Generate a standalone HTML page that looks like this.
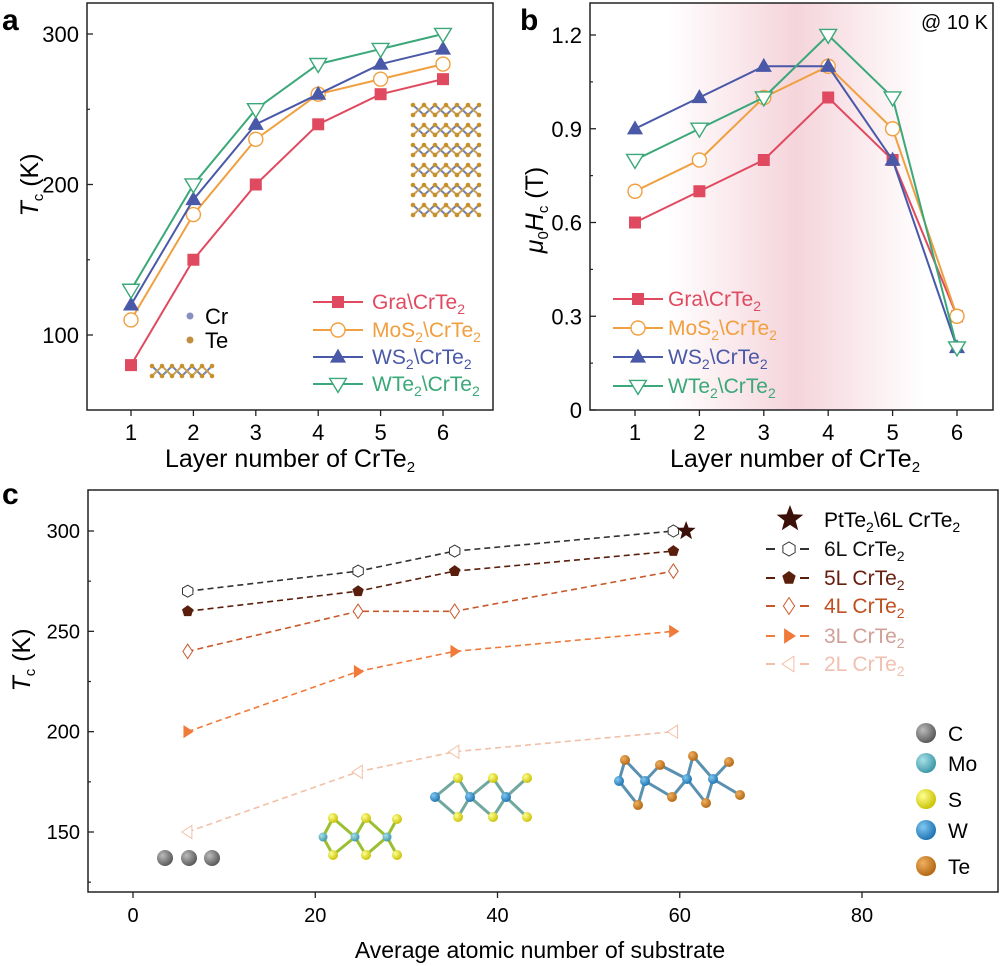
<!DOCTYPE html>
<html><head><meta charset="utf-8"><style>
html,body{margin:0;padding:0;background:#fff}
svg{display:block;font-family:"Liberation Sans",Arial,sans-serif}
</style></head><body>
<svg id="fig" width="1000" height="966" viewBox="0 0 1000 966" xmlns="http://www.w3.org/2000/svg">
<defs>
<linearGradient id="pinkG" x1="0" x2="1" y1="0" y2="0">
<stop offset="0" stop-color="#e8a0b0" stop-opacity="0"/>
<stop offset="0.5" stop-color="#e8a0b0" stop-opacity="0.45"/>
<stop offset="1" stop-color="#e8a0b0" stop-opacity="0"/>
</linearGradient>
<radialGradient id="gC" cx="0.35" cy="0.35" r="0.7"><stop offset="0" stop-color="#bbb"/><stop offset="1" stop-color="#555"/></radialGradient>
<radialGradient id="gMo" cx="0.35" cy="0.35" r="0.7"><stop offset="0" stop-color="#a8e0e8"/><stop offset="1" stop-color="#3a95a5"/></radialGradient>
<radialGradient id="gS" cx="0.35" cy="0.35" r="0.7"><stop offset="0" stop-color="#ffff90"/><stop offset="1" stop-color="#c8c000"/></radialGradient>
<radialGradient id="gW" cx="0.35" cy="0.35" r="0.7"><stop offset="0" stop-color="#80c8f0"/><stop offset="1" stop-color="#1a70b0"/></radialGradient>
<radialGradient id="gTe" cx="0.35" cy="0.35" r="0.7"><stop offset="0" stop-color="#f0b060"/><stop offset="1" stop-color="#b06510"/></radialGradient>
</defs>
</svg>
<script>
// ---------- data ----------
const layers = [1,2,3,4,5,6];
const tcGra  = [80,150,200,240,260,270];
const tcMoS2 = [110,180,230,260,270,280];
const tcWS2  = [120,190,240,260,280,290];
const tcWTe2 = [130,200,250,280,290,300];
const hcGra  = [0.6,0.7,0.8,1.0,0.8,0.3];
const hcMoS2 = [0.7,0.8,1.0,1.1,0.9,0.3];
const hcWS2  = [0.9,1.0,1.1,1.1,0.8,0.2];
const hcWTe2 = [0.8,0.9,1.0,1.2,1.0,0.2];
const tickA = [100,200,300];
const tickB = [0,0.3,0.6,0.9,1.2];
const tickBLabels = ["0","0.3","0.6","0.9","1.2"];
const zSub = [6,24.7,35.3,59.3];
const tc6L = [270,280,290,300];
const tc5L = [260,270,280,290];
const tc4L = [240,260,260,280];
const tc3L = [200,230,240,250];
const tc2L = [150,180,190,200];
const starZ = [60.7];
const starTc = [300];
const tickCx = [0,20,40,60,80];
const tickCy = [150,200,250,300];

const NS="http://www.w3.org/2000/svg";
const svg=document.getElementById('fig');
function el(tag,attrs,parent,name,inter){
  const e=document.createElementNS(NS,tag);
  for(const k in attrs) e.setAttribute(k,attrs[k]);
  
  
  (parent||svg).appendChild(e); return e;
}
function txt(x,y,html,attrs,name,parent){
  const t=el('text',Object.assign({x:x,y:y},attrs||{}),parent,name);
  t.innerHTML=html; return t;
}
function marker(g,type,x,y,s,color,fill){
  let e;
  if(type==='square') e=el('rect',{x:x-s,y:y-s,width:2*s,height:2*s,fill:color},g,'marker');
  else if(type==='circle') e=el('circle',{cx:x,cy:y,r:s,fill:'#fff',stroke:color,'stroke-width':1.4},g,'marker');
  else if(type==='tri') e=el('polygon',{points:`${x},${y-s*1.2} ${x-s*1.15},${y+s*0.8} ${x+s*1.15},${y+s*0.8}`,fill:color},g,'marker');
  else if(type==='itri') e=el('polygon',{points:`${x},${y+s*1.2} ${x-s*1.2},${y-s*0.8} ${x+s*1.2},${y-s*0.8}`,fill:'#fff',stroke:color,'stroke-width':1.4},g,'marker');
  else if(type==='hex'){let p=[];for(let i=0;i<6;i++){const a=Math.PI/6+i*Math.PI/3;p.push((x+s*Math.cos(a)).toFixed(1)+','+(y+s*Math.sin(a)).toFixed(1));}
    e=el('polygon',{points:p.join(' '),fill:'#fff',stroke:color,'stroke-width':1},g,'marker');}
  else if(type==='pent'){let p=[];for(let i=0;i<5;i++){const a=-Math.PI/2+i*2*Math.PI/5;p.push((x+s*Math.cos(a)).toFixed(1)+','+(y+s*Math.sin(a)).toFixed(1));}
    e=el('polygon',{points:p.join(' '),fill:color},g,'marker');}
  else if(type==='diam') e=el('polygon',{points:`${x},${y-s*1.2} ${x+s*0.8},${y} ${x},${y+s*1.2} ${x-s*0.8},${y}`,fill:'#fff',stroke:color,'stroke-width':1},g,'marker');
  else if(type==='rtri') e=el('polygon',{points:`${x+s},${y} ${x-s*0.7},${y-s*1.1} ${x-s*0.7},${y+s*1.1}`,fill:color},g,'marker');
  else if(type==='ltri') e=el('polygon',{points:`${x-s},${y} ${x+s*0.7},${y-s*1.1} ${x+s*0.7},${y+s*1.1}`,fill:'#fff',stroke:color,'stroke-width':1},g,'marker');
  else if(type==='star'){let p=[];for(let i=0;i<10;i++){const a=-Math.PI/2+i*Math.PI/5;const r=i%2?s*0.42:s;p.push((x+r*Math.cos(a)).toFixed(1)+','+(y+r*Math.sin(a)).toFixed(1));}
    e=el('polygon',{points:p.join(' '),fill:color},g,'marker');}
  return e;
}
function ball(g,x,y,r,grad){el('circle',{cx:x,cy:y,r:r,fill:'url(#'+grad+')'},g,'atom');}

// ---------- Panel a ----------
const A={l:87,r:493,t:3,b:410};
const ax=v=>131+(v-1)*(443-131)/5;
const ay=v=>335-(v-100)*(335-34)/200;
const gA=el('g',{},svg,'panel-a');
txt(2,30,'a',{'font-size':30,'font-weight':'bold'},'panel-a-label',gA);
// ticks
tickA.forEach(v=>{el('line',{x1:A.l,x2:A.l+6,y1:ay(v),y2:ay(v),stroke:'#222','stroke-width':1.3},gA,'y-tick');
  txt(A.l-8,ay(v)+8,v,{'font-size':22,'text-anchor':'end'},'y-tick-label',gA);});
[150,250].forEach(v=>el('line',{x1:A.l,x2:A.l+3,y1:ay(v),y2:ay(v),stroke:'#222','stroke-width':1.2},gA,'y-minor-tick'));
layers.forEach(v=>{el('line',{x1:ax(v),x2:ax(v),y1:A.b,y2:A.b+6,stroke:'#222','stroke-width':1.3},gA,'x-tick');
  txt(ax(v),A.b+30,v,{'font-size':22,'text-anchor':'middle'},'x-tick-label',gA);});
txt(290,467,'Layer number of CrTe<tspan font-size="15" dy="5">2</tspan>',{'font-size':25,'text-anchor':'middle'},'x-axis-title',gA);
txt(0,0,'<tspan font-style="italic">T</tspan><tspan font-size="15" dy="5">c</tspan><tspan dy="-5"> (K)</tspan>',{'font-size':25,'text-anchor':'middle',transform:'translate(38,185) rotate(-90)'},'y-axis-title',gA);
// lattice decorations
(function(){
  const g=el('g',{},gA,'crte2-bulk-structure');
  for(let k=0;k<6;k++){const y0=105+k*20;
    let pts=[];for(let i=0;i<=6;i++){pts.push((413+i*11)+','+(y0+(i%2?10:0)));}
    el('polyline',{points:pts.join(' '),fill:'none',stroke:'#7080b0','stroke-width':2},g,'bond');
    let pts2=[];for(let i=0;i<=6;i++){pts2.push((413+i*11)+','+(y0+(i%2?0:10)));}
    el('polyline',{points:pts2.join(' '),fill:'none',stroke:'#c8a050','stroke-width':2},g,'bond');
    for(let i=0;i<=6;i++){el('circle',{cx:413+i*11,cy:y0,r:2.3,fill:'#c8902a'},g,'te-atom');el('circle',{cx:413+i*11,cy:y0+10,r:2.3,fill:'#c8902a'},g,'te-atom');}
  }
  const g2=el('g',{},gA,'crte2-monolayer-structure');
  let p1=[],p2=[];for(let i=0;i<=6;i++){p1.push((152+i*10)+','+(366+(i%2?10:0)));p2.push((152+i*10)+','+(366+(i%2?0:10)));}
  el('polyline',{points:p1.join(' '),fill:'none',stroke:'#7080b0','stroke-width':2},g2,'bond');
  el('polyline',{points:p2.join(' '),fill:'none',stroke:'#c8a050','stroke-width':2},g2,'bond');
  for(let i=0;i<=6;i++){el('circle',{cx:152+i*10,cy:366,r:2.3,fill:'#c8902a'},g2,'te-atom');el('circle',{cx:152+i*10,cy:376,r:2.3,fill:'#c8902a'},g2,'te-atom');}
  el('circle',{cx:190,cy:316,r:3.5,fill:'#8890c0'},gA,'cr-legend-dot');
  txt(205,324,'Cr',{'font-size':22},'cr-legend-label',gA);
  el('circle',{cx:190,cy:340,r:3.5,fill:'#c09040'},gA,'te-legend-dot');
  txt(205,348,'Te',{'font-size':22},'te-legend-label',gA);
})();
const seriesA=[[tcGra,'#e04a60','square','gra'],[tcMoS2,'#f0a040','circle','mos2'],[tcWS2,'#4a58a8','tri','ws2'],[tcWTe2,'#3aa878','itri','wte2']];
seriesA.forEach(s=>{const g=el('g',{},gA,'series-a-'+s[3]);
  el('polyline',{points:layers.map((v,i)=>ax(v)+','+ay(s[0][i])).join(' '),fill:'none',stroke:s[1],'stroke-width':2},g,'line');
  layers.forEach((v,i)=>marker(g,s[2],ax(v),ay(s[0][i]),s[2]==='square'?6:7,s[1]));});
const legNames=['Gra\\CrTe<tspan font-size="14" dy="5">2</tspan>','MoS<tspan font-size="14" dy="5">2</tspan><tspan dy="-5">\\CrTe</tspan><tspan font-size="14" dy="5">2</tspan>','WS<tspan font-size="14" dy="5">2</tspan><tspan dy="-5">\\CrTe</tspan><tspan font-size="14" dy="5">2</tspan>','WTe<tspan font-size="14" dy="5">2</tspan><tspan dy="-5">\\CrTe</tspan><tspan font-size="14" dy="5">2</tspan>'];
function legend(g,x0,ys,tx){seriesA.forEach((s,i)=>{const lg=el('g',{},g,'legend-entry-'+s[3]);
  el('line',{x1:x0,x2:x0+50,y1:ys[i],y2:ys[i],stroke:s[1],'stroke-width':2},lg,'legend-line');
  marker(lg,s[2],x0+25,ys[i],s[2]==='square'?6:7,s[1]);
  txt(tx,ys[i]+7,legNames[i],{'font-size':21,fill:s[1]},'legend-label',lg);});}
legend(gA,313,[302,330,357,384],372);
el('rect',{x:A.l,y:A.t,width:A.r-A.l,height:A.b-A.t,fill:'none',stroke:'#222','stroke-width':1.5},gA,'plot-frame');

// ---------- Panel b ----------
const B={l:590,r:993,t:3,b:410};
const bx=v=>635+(v-1)*(957-635)/5;
const by=v=>410-v*(410-35)/1.2;
const gB=el('g',{},svg,'panel-b');
el('rect',{x:bx(1.5),y:B.t,width:bx(5.5)-bx(1.5),height:B.b-B.t,fill:'url(#pinkG)'},gB,'highlight-band');
txt(520,30,'b',{'font-size':30,'font-weight':'bold'},'panel-b-label',gB);
txt(988,29,'@ 10 K',{'font-size':20,'text-anchor':'end'},'temperature-note',gB);
tickB.forEach((v,i)=>{el('line',{x1:B.l,x2:B.l+6,y1:by(v),y2:by(v),stroke:'#222','stroke-width':1.3},gB,'y-tick');
  txt(B.l-8,by(v)+8,tickBLabels[i],{'font-size':22,'text-anchor':'end'},'y-tick-label',gB);});
[0.15,0.45,0.75,1.05].forEach(v=>el('line',{x1:B.l,x2:B.l+3,y1:by(v),y2:by(v),stroke:'#222','stroke-width':1.2},gB,'y-minor-tick'));
layers.forEach(v=>{el('line',{x1:bx(v),x2:bx(v),y1:B.b,y2:B.b+6,stroke:'#222','stroke-width':1.3},gB,'x-tick');
  txt(bx(v),B.b+30,v,{'font-size':22,'text-anchor':'middle'},'x-tick-label',gB);});
txt(795,467,'Layer number of CrTe<tspan font-size="15" dy="5">2</tspan>',{'font-size':25,'text-anchor':'middle'},'x-axis-title',gB);
txt(0,0,'<tspan font-style="italic">μ</tspan><tspan font-size="15" dy="5">0</tspan><tspan dy="-5" font-style="italic">H</tspan><tspan font-size="15" dy="5">c</tspan><tspan dy="-5"> (T)</tspan>',{'font-size':25,'text-anchor':'middle',transform:'translate(543,210) rotate(-90)'},'y-axis-title',gB);
const seriesB=[hcGra,hcMoS2,hcWS2,hcWTe2];
seriesA.forEach((s,k)=>{const g=el('g',{},gB,'series-b-'+s[3]);
  el('polyline',{points:layers.map((v,i)=>bx(v)+','+by(seriesB[k][i])).join(' '),fill:'none',stroke:s[1],'stroke-width':2},g,'line');
  layers.forEach((v,i)=>marker(g,s[2],bx(v),by(seriesB[k][i]),s[2]==='square'?6:7,s[1]));});
legend(gB,613,[299,328,357,386],668);
el('rect',{x:B.l,y:B.t,width:B.r-B.l,height:B.b-B.t,fill:'none',stroke:'#222','stroke-width':1.5},gB,'plot-frame');

// ---------- Panel c ----------
const C={l:88,r:998,t:490,b:892};
const cx=v=>133+v*(862-133)/80;
const cy=v=>531+(300-v)*(832-531)/150;
const gC=el('g',{},svg,'panel-c');
txt(2,504,'c',{'font-size':30,'font-weight':'bold'},'panel-c-label',gC);
tickCy.forEach(v=>{el('line',{x1:C.l,x2:C.l+6,y1:cy(v),y2:cy(v),stroke:'#222','stroke-width':1.3},gC,'y-tick');
  txt(C.l-8,cy(v)+7,v,{'font-size':20,'text-anchor':'end'},'y-tick-label',gC);});
[125,175,225,275].forEach(v=>el('line',{x1:C.l,x2:C.l+3,y1:cy(v),y2:cy(v),stroke:'#222','stroke-width':1.2},gC,'y-minor-tick'));
tickCx.forEach(v=>{el('line',{x1:cx(v),x2:cx(v),y1:C.b,y2:C.b+6,stroke:'#222','stroke-width':1.3},gC,'x-tick');
  txt(cx(v),C.b+30,v,{'font-size':20,'text-anchor':'middle'},'x-tick-label',gC);});
txt(540,958,'Average atomic number of substrate',{'font-size':23,'text-anchor':'middle'},'x-axis-title',gC);
txt(0,0,'<tspan font-style="italic">T</tspan><tspan font-size="15" dy="5">c</tspan><tspan dy="-5"> (K)</tspan>',{'font-size':25,'text-anchor':'middle',transform:'translate(30,660) rotate(-90)'},'y-axis-title',gC);
// molecules
(function(){
  const g=el('g',{},gC,'graphene-structure');
  [165,189,212].forEach(x=>ball(g,x,858,8,'gC'));
  const m=el('g',{},gC,'mos2-structure');
  const Mo=[[323,837],[355,837],[387,837]],St=[[333,818],[366,818],[397,819]],Sb=[[333,855],[366,855],[397,855]];
  Mo.forEach((p,i)=>{[St[i],Sb[i]].forEach(q=>el('line',{x1:p[0],y1:p[1],x2:q[0],y2:q[1],stroke:'#9ac030','stroke-width':3},m,'bond'));
    if(i>0)[St[i-1],Sb[i-1]].forEach(q=>el('line',{x1:p[0],y1:p[1],x2:q[0],y2:q[1],stroke:'#9ac030','stroke-width':3},m,'bond'));});
  St.concat(Sb).forEach(p=>ball(m,p[0],p[1],5,'gS'));Mo.forEach(p=>ball(m,p[0],p[1],4.5,'gMo'));
  const w=el('g',{},gC,'ws2-structure');
  const W=[[435,797],[470,797],[506,797]],Wt=[[458,778],[493,778],[527,778]],Wb=[[458,817],[493,817],[527,817]];
  W.forEach((p,i)=>{[Wt[i],Wb[i]].forEach(q=>el('line',{x1:p[0],y1:p[1],x2:q[0],y2:q[1],stroke:'#70a8a0','stroke-width':3},w,'bond'));
    if(i>0)[Wt[i-1],Wb[i-1]].forEach(q=>el('line',{x1:p[0],y1:p[1],x2:q[0],y2:q[1],stroke:'#70a8a0','stroke-width':3},w,'bond'));});
  Wt.concat(Wb).forEach(p=>ball(w,p[0],p[1],5,'gS'));W.forEach(p=>ball(w,p[0],p[1],5,'gW'));
  const t=el('g',{},gC,'wte2-structure');
  const W2=[[619,781],[645,781],[687,779],[713,779]],Te=[[625,760],[660,765],[693,756],[729,762],[638,805],[672,797],[706,803],[740,795]];
  const bonds=[[0,0],[0,4],[1,0],[1,1],[1,4],[1,5],[2,1],[2,2],[2,5],[2,6],[3,2],[3,3],[3,6],[3,7]];
  bonds.forEach(b=>el('line',{x1:W2[b[0]][0],y1:W2[b[0]][1],x2:Te[b[1]][0],y2:Te[b[1]][1],stroke:'#5a90b0','stroke-width':3},t,'bond'));
  Te.forEach(p=>ball(t,p[0],p[1],5,'gTe'));W2.forEach(p=>ball(t,p[0],p[1],5,'gW'));
})();
const seriesC=[[tc2L,'#f2c0a8','ltri','2l'],[tc3L,'#f07a3a','rtri','3l'],[tc4L,'#c8582a','diam','4l'],[tc5L,'#5a1e0c','pent','5l'],[tc6L,'#333','hex','6l']];
seriesC.forEach(s=>{const g=el('g',{},gC,'series-c-'+s[3]);
  el('polyline',{points:zSub.map((v,i)=>cx(v)+','+cy(s[0][i])).join(' '),fill:'none',stroke:s[1],'stroke-width':1.6,'stroke-dasharray':'6,4'},g,'line');
  zSub.forEach((v,i)=>marker(g,s[2],cx(v),cy(s[0][i]),6,s[1]));});
const gs=el('g',{},gC,'series-c-ptte2');
starZ.forEach((v,i)=>marker(gs,'star',cx(v),cy(starTc[i]),10,'#3a1008'));
// legend c
marker(gC,'star',790,519,14,'#3a1008');
txt(824,527,'PtTe<tspan font-size="14" dy="5">2</tspan><tspan dy="-5">\\6L CrTe</tspan><tspan font-size="14" dy="5">2</tspan>',{'font-size':21},'legend-label-ptte2',gC);
const legC=[['6l','#333','hex','#111',549],['5l','#5a1e0c','pent','#6a2010',578],['4l','#c8582a','diam','#c05020',606],['3l','#f07a3a','rtri','#d0a098',636],['2l','#f2c0a8','ltri','#f0c0b0',664]];
legC.forEach(r=>{const lg=el('g',{},gC,'legend-entry-'+r[0]);
  el('line',{x1:765,x2:816,y1:r[4],y2:r[4],stroke:r[1],'stroke-width':2,'stroke-dasharray':'9,8','stroke-dashoffset':'-1'},lg,'legend-line');
  el('rect',{x:779,y:r[4]-8,width:20,height:16,fill:'#fff'},lg,'legend-gap');
  marker(lg,r[2],789,r[4],7,r[1]);
  txt(824,r[4]+7,r[0].toUpperCase()+' CrTe<tspan font-size="14" dy="5">2</tspan>',{'font-size':21,fill:r[3]},'legend-label',lg);});
[['C','gC',733],['Mo','gMo',763],['S','gS',799],['W','gW',830],['Te','gTe',866]].forEach(r=>{const lg=el('g',{},gC,'element-legend-'+r[0].toLowerCase());
  ball(lg,926,r[2],10,r[1]);txt(948,r[2]+8,r[0],{'font-size':21},'element-label',lg);});
el('rect',{x:C.l,y:C.t,width:C.r-C.l,height:C.b-C.t,fill:'none',stroke:'#222','stroke-width':1.5},gC,'plot-frame');
</script>
</body></html>
